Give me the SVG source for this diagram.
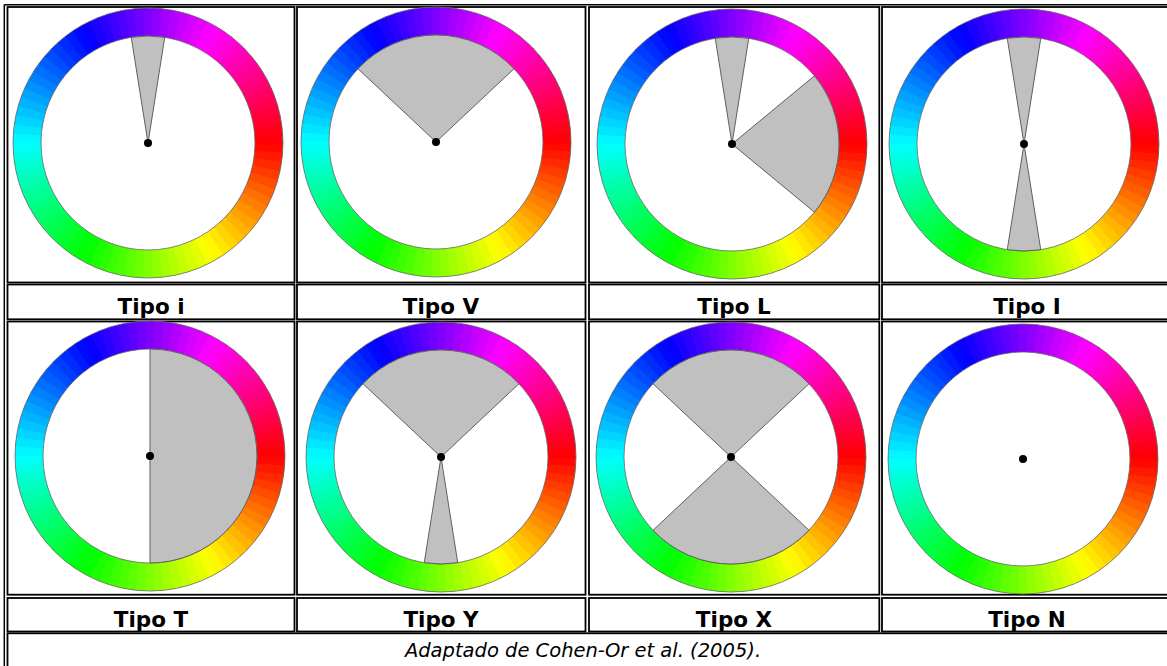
<svg xmlns="http://www.w3.org/2000/svg" xmlns:xlink="http://www.w3.org/1999/xlink" width="1167" height="666" viewBox="0 0 1167 666">
<style>
.cell{fill:#fff;stroke:#000;stroke-width:1.8}
.edge{fill:none;stroke:#000;stroke-width:1.5}
.lbl{font-family:"DejaVu Sans","Verdana",sans-serif;font-weight:bold;font-size:21.5px;text-anchor:middle;fill:#000}
.cap{font-family:"DejaVu Sans","Verdana",sans-serif;font-style:italic;font-size:19.5px;text-anchor:middle;fill:#000}
.sec{fill:#c0c0c0;stroke:#606060;stroke-width:1}
.rim{fill:none;stroke:#666;stroke-width:0.8}
.dot{fill:#000}
</style>
<defs>
<path id="w" d="M135,0L134.58,10.59L106.67,8.40L107,0Z"/>
<g id="ring">
<use href="#w" transform="rotate(0)" fill="hsl(2,100%,50%)"/>
<use href="#w" transform="rotate(4)" fill="hsl(6,100%,50%)"/>
<use href="#w" transform="rotate(8)" fill="hsl(10,100%,50%)"/>
<use href="#w" transform="rotate(12)" fill="hsl(14,100%,50%)"/>
<use href="#w" transform="rotate(16)" fill="hsl(18,100%,50%)"/>
<use href="#w" transform="rotate(20)" fill="hsl(22,100%,50%)"/>
<use href="#w" transform="rotate(24)" fill="hsl(26,100%,50%)"/>
<use href="#w" transform="rotate(28)" fill="hsl(30,100%,50%)"/>
<use href="#w" transform="rotate(32)" fill="hsl(34,100%,50%)"/>
<use href="#w" transform="rotate(36)" fill="hsl(38,100%,50%)"/>
<use href="#w" transform="rotate(40)" fill="hsl(42,100%,50%)"/>
<use href="#w" transform="rotate(44)" fill="hsl(46,100%,50%)"/>
<use href="#w" transform="rotate(48)" fill="hsl(50,100%,50%)"/>
<use href="#w" transform="rotate(52)" fill="hsl(54,100%,50%)"/>
<use href="#w" transform="rotate(56)" fill="hsl(58,100%,50%)"/>
<use href="#w" transform="rotate(60)" fill="hsl(62,100%,50%)"/>
<use href="#w" transform="rotate(64)" fill="hsl(66,100%,50%)"/>
<use href="#w" transform="rotate(68)" fill="hsl(70,100%,50%)"/>
<use href="#w" transform="rotate(72)" fill="hsl(74,100%,50%)"/>
<use href="#w" transform="rotate(76)" fill="hsl(78,100%,50%)"/>
<use href="#w" transform="rotate(80)" fill="hsl(82,100%,50%)"/>
<use href="#w" transform="rotate(84)" fill="hsl(86,100%,50%)"/>
<use href="#w" transform="rotate(88)" fill="hsl(90,100%,50%)"/>
<use href="#w" transform="rotate(92)" fill="hsl(94,100%,50%)"/>
<use href="#w" transform="rotate(96)" fill="hsl(98,100%,50%)"/>
<use href="#w" transform="rotate(100)" fill="hsl(102,100%,50%)"/>
<use href="#w" transform="rotate(104)" fill="hsl(106,100%,50%)"/>
<use href="#w" transform="rotate(108)" fill="hsl(110,100%,50%)"/>
<use href="#w" transform="rotate(112)" fill="hsl(114,100%,50%)"/>
<use href="#w" transform="rotate(116)" fill="hsl(118,100%,50%)"/>
<use href="#w" transform="rotate(120)" fill="hsl(122,100%,50%)"/>
<use href="#w" transform="rotate(124)" fill="hsl(126,100%,50%)"/>
<use href="#w" transform="rotate(128)" fill="hsl(130,100%,50%)"/>
<use href="#w" transform="rotate(132)" fill="hsl(134,100%,50%)"/>
<use href="#w" transform="rotate(136)" fill="hsl(138,100%,50%)"/>
<use href="#w" transform="rotate(140)" fill="hsl(142,100%,50%)"/>
<use href="#w" transform="rotate(144)" fill="hsl(146,100%,50%)"/>
<use href="#w" transform="rotate(148)" fill="hsl(150,100%,50%)"/>
<use href="#w" transform="rotate(152)" fill="hsl(154,100%,50%)"/>
<use href="#w" transform="rotate(156)" fill="hsl(158,100%,50%)"/>
<use href="#w" transform="rotate(160)" fill="hsl(162,100%,50%)"/>
<use href="#w" transform="rotate(164)" fill="hsl(166,100%,50%)"/>
<use href="#w" transform="rotate(168)" fill="hsl(170,100%,50%)"/>
<use href="#w" transform="rotate(172)" fill="hsl(174,100%,50%)"/>
<use href="#w" transform="rotate(176)" fill="hsl(178,100%,50%)"/>
<use href="#w" transform="rotate(180)" fill="hsl(182,100%,50%)"/>
<use href="#w" transform="rotate(184)" fill="hsl(186,100%,50%)"/>
<use href="#w" transform="rotate(188)" fill="hsl(190,100%,50%)"/>
<use href="#w" transform="rotate(192)" fill="hsl(194,100%,50%)"/>
<use href="#w" transform="rotate(196)" fill="hsl(198,100%,50%)"/>
<use href="#w" transform="rotate(200)" fill="hsl(202,100%,50%)"/>
<use href="#w" transform="rotate(204)" fill="hsl(206,100%,50%)"/>
<use href="#w" transform="rotate(208)" fill="hsl(210,100%,50%)"/>
<use href="#w" transform="rotate(212)" fill="hsl(214,100%,50%)"/>
<use href="#w" transform="rotate(216)" fill="hsl(218,100%,50%)"/>
<use href="#w" transform="rotate(220)" fill="hsl(222,100%,50%)"/>
<use href="#w" transform="rotate(224)" fill="hsl(226,100%,50%)"/>
<use href="#w" transform="rotate(228)" fill="hsl(230,100%,50%)"/>
<use href="#w" transform="rotate(232)" fill="hsl(234,100%,50%)"/>
<use href="#w" transform="rotate(236)" fill="hsl(238,100%,50%)"/>
<use href="#w" transform="rotate(240)" fill="hsl(242,100%,50%)"/>
<use href="#w" transform="rotate(244)" fill="hsl(246,100%,50%)"/>
<use href="#w" transform="rotate(248)" fill="hsl(250,100%,50%)"/>
<use href="#w" transform="rotate(252)" fill="hsl(254,100%,50%)"/>
<use href="#w" transform="rotate(256)" fill="hsl(258,100%,50%)"/>
<use href="#w" transform="rotate(260)" fill="hsl(262,100%,50%)"/>
<use href="#w" transform="rotate(264)" fill="hsl(266,100%,50%)"/>
<use href="#w" transform="rotate(268)" fill="hsl(270,100%,50%)"/>
<use href="#w" transform="rotate(272)" fill="hsl(274,100%,50%)"/>
<use href="#w" transform="rotate(276)" fill="hsl(278,100%,50%)"/>
<use href="#w" transform="rotate(280)" fill="hsl(282,100%,50%)"/>
<use href="#w" transform="rotate(284)" fill="hsl(286,100%,50%)"/>
<use href="#w" transform="rotate(288)" fill="hsl(290,100%,50%)"/>
<use href="#w" transform="rotate(292)" fill="hsl(294,100%,50%)"/>
<use href="#w" transform="rotate(296)" fill="hsl(298,100%,50%)"/>
<use href="#w" transform="rotate(300)" fill="hsl(302,100%,50%)"/>
<use href="#w" transform="rotate(304)" fill="hsl(306,100%,50%)"/>
<use href="#w" transform="rotate(308)" fill="hsl(310,100%,50%)"/>
<use href="#w" transform="rotate(312)" fill="hsl(314,100%,50%)"/>
<use href="#w" transform="rotate(316)" fill="hsl(318,100%,50%)"/>
<use href="#w" transform="rotate(320)" fill="hsl(322,100%,50%)"/>
<use href="#w" transform="rotate(324)" fill="hsl(326,100%,50%)"/>
<use href="#w" transform="rotate(328)" fill="hsl(330,100%,50%)"/>
<use href="#w" transform="rotate(332)" fill="hsl(334,100%,50%)"/>
<use href="#w" transform="rotate(336)" fill="hsl(338,100%,50%)"/>
<use href="#w" transform="rotate(340)" fill="hsl(342,100%,50%)"/>
<use href="#w" transform="rotate(344)" fill="hsl(346,100%,50%)"/>
<use href="#w" transform="rotate(348)" fill="hsl(350,100%,50%)"/>
<use href="#w" transform="rotate(352)" fill="hsl(354,100%,50%)"/>
<use href="#w" transform="rotate(356)" fill="hsl(358,100%,50%)"/>
<circle class="rim" r="135"/>
<circle class="rim" r="107"/>
</g>
<path id="sTop18" class="sec" d="M0,0L-16.74,-105.68A107,107 0 0,1 16.74,-105.68Z"/>
<path id="sBot18" class="sec" d="M0,0L16.74,105.68A107,107 0 0,1 -16.74,105.68Z"/>
<path id="sTopV" class="sec" d="M0,0L-78,-73.25A107,107 0 0,1 78,-73.25Z"/>
<path id="sBotV" class="sec" d="M0,0L78,73.25A107,107 0 0,1 -78,73.25Z"/>
<path id="sEastL" class="sec" d="M0,0L82.44,-68.2A107,107 0 0,1 82.44,68.2Z"/>
<path id="sHalfT" class="sec" d="M0,0L0,-107A107,107 0 0,1 0,107Z"/>
</defs>
<rect width="1167" height="666" fill="#fff"/>
<g id="table">
<line class="edge" x1="4.3" y1="4.5" x2="4.3" y2="666"/>
<line class="edge" x1="4.3" y1="4.8" x2="1167" y2="4.8"/>
<rect class="cell" x="7.5" y="7" width="287" height="275.5"/>
<rect class="cell" x="297" y="7" width="288.5" height="275.5"/>
<rect class="cell" x="589" y="7" width="290.3" height="275.5"/>
<rect class="cell" x="882" y="7" width="290" height="275.5"/>
<rect class="cell" x="7.5" y="284.5" width="287" height="34.8"/>
<rect class="cell" x="297" y="284.5" width="288.5" height="34.8"/>
<rect class="cell" x="589" y="284.5" width="290.3" height="34.8"/>
<rect class="cell" x="882" y="284.5" width="290" height="34.8"/>
<rect class="cell" x="7.5" y="321.5" width="287" height="273.2"/>
<rect class="cell" x="297" y="321.5" width="288.5" height="273.2"/>
<rect class="cell" x="589" y="321.5" width="290.3" height="273.2"/>
<rect class="cell" x="882" y="321.5" width="290" height="273.2"/>
<rect class="cell" x="7.5" y="598" width="287" height="33.5"/>
<rect class="cell" x="297" y="598" width="288.5" height="33.5"/>
<rect class="cell" x="589" y="598" width="290.3" height="33.5"/>
<rect class="cell" x="882" y="598" width="290" height="33.5"/>
<rect class="cell" x="7.5" y="633.3" width="1165" height="60"/>
</g>
<g id="wheel-i" transform="translate(148,143)"><use href="#ring"/><use href="#sTop18"/><circle class="dot" r="4"/></g>
<g id="wheel-V" transform="translate(436,142)"><use href="#ring"/><use href="#sTopV"/><circle class="dot" r="4"/></g>
<g id="wheel-L" transform="translate(732,144)"><use href="#ring"/><use href="#sTop18"/><use href="#sEastL"/><circle class="dot" r="4"/></g>
<g id="wheel-I" transform="translate(1024,144)"><use href="#ring"/><use href="#sTop18"/><use href="#sBot18"/><circle class="dot" r="4"/></g>
<g id="wheel-T" transform="translate(150,456)"><use href="#ring"/><use href="#sHalfT"/><circle class="dot" r="4"/></g>
<g id="wheel-Y" transform="translate(441,457)"><use href="#ring"/><use href="#sTopV"/><use href="#sBot18"/><circle class="dot" r="4"/></g>
<g id="wheel-X" transform="translate(731,457)"><use href="#ring"/><use href="#sTopV"/><use href="#sBotV"/><circle class="dot" r="4"/></g>
<g id="wheel-N" transform="translate(1023,459)"><use href="#ring"/><circle class="dot" r="4"/></g>
<g id="labels">
<text class="lbl" x="151" y="313.5">Tipo i</text>
<text class="lbl" x="441" y="313.5">Tipo V</text>
<text class="lbl" x="734" y="313.5">Tipo L</text>
<text class="lbl" x="1027" y="313.5">Tipo I</text>
<text class="lbl" x="151" y="626.5">Tipo T</text>
<text class="lbl" x="441" y="626.5">Tipo Y</text>
<text class="lbl" x="734" y="626.5">Tipo X</text>
<text class="lbl" x="1027" y="626.5">Tipo N</text>
<text class="cap" x="583" y="657">Adaptado de Cohen-Or et al. (2005).</text>
</g>
</svg>
